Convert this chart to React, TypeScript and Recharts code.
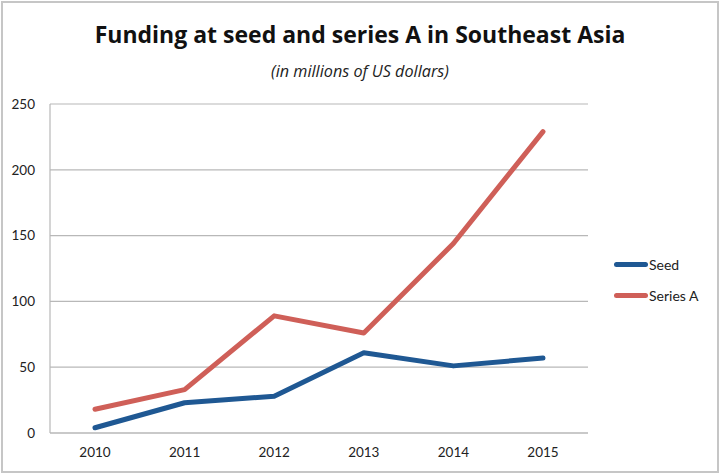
import React from "react";
import { LineChart, Line, XAxis, YAxis, CartesianGrid, Legend } from "recharts";

const years = ["2010", "2011", "2012", "2013", "2014", "2015"];
const seed = [4, 23, 28, 61, 51, 57];
const seriesA = [18, 33, 89, 76, 144, 229];
const yTicks = [0, 50, 100, 150, 200, 250];

const data = years.map((y, i) => ({ year: y, seed: seed[i], seriesA: seriesA[i] }));

const FONT = "Lato, 'Open Sans', sans-serif";
const TITLE_FONT = "'Open Sans', Lato, sans-serif";
const BLUE = "#1f5893";
const RED = "#cf5f58";
const GRID = "#b8b8b8";

const LegendContent = (props: any) => {
  const payload = props.payload || [];
  return (
    <div style={{ fontFamily: FONT, fontSize: 14, color: "#222" }}>
      {payload.map((p: any, i: number) => (
        <div key={i} style={{ display: "flex", alignItems: "center", height: 31 }}>
          <div style={{ width: 34, height: 5, borderRadius: 3, background: p.color, marginRight: 1 }} />
          <span>{p.value}</span>
        </div>
      ))}
    </div>
  );
};

export default function App() {
  return (
    <div style={{ position: "relative", width: 720, height: 474, background: "#fff" }}>
      <style>{`body{margin:0}`}</style>
      <div
        style={{
          position: "absolute",
          left: 1,
          top: 1,
          width: 718,
          height: 472,
          boxSizing: "border-box",
          border: "2px solid #c6c6c6",
        }}
      />
      <div
        style={{
          position: "absolute",
          left: 0,
          top: 19,
          width: 720,
          textAlign: "center",
          fontFamily: TITLE_FONT,
          fontWeight: 700,
          fontSize: 23,
          color: "#111",
          lineHeight: "30px",
        }}
      >
        Funding at seed and series A in Southeast Asia
      </div>
      <div
        style={{
          position: "absolute",
          left: 0,
          top: 61,
          width: 720,
          textAlign: "center",
          fontFamily: TITLE_FONT,
          fontStyle: "italic",
          fontSize: 16.2,
          color: "#222",
          lineHeight: "20px",
        }}
      >
        (in millions of US dollars)
      </div>
      <div style={{ position: "absolute", left: 0, top: 0 }}>
        <LineChart
          width={720}
          height={474}
          data={data}
          margin={{ top: 104, right: 132, bottom: 0, left: 0 }}
        >
          <CartesianGrid vertical={false} stroke={GRID} strokeWidth={1.2} />
          <XAxis
            dataKey="year"
            height={41}
            padding={{ left: 45, right: 45 }}
            axisLine={{ stroke: GRID, strokeWidth: 1.2 }}
            tickLine={false}
            tickSize={0}
            tickMargin={14}
            tick={{ fontFamily: FONT, fontSize: 13.5, fill: "#222" }}
          />
          <YAxis
            width={50}
            domain={[0, 250]}
            ticks={yTicks}
            axisLine={{ stroke: GRID, strokeWidth: 1.2 }}
            tickLine={false}
            tickSize={0}
            tickMargin={15}
            tick={{ fontFamily: FONT, fontSize: 13.5, fill: "#222" }}
          />
          <Line
            dataKey="seed"
            name="Seed"
            stroke={BLUE}
            strokeWidth={5}
            dot={false}
            activeDot={false}
            strokeLinejoin="round"
            strokeLinecap="round"
            isAnimationActive={false}
          />
          <Line
            dataKey="seriesA"
            name="Series A"
            stroke={RED}
            strokeWidth={5}
            dot={false}
            activeDot={false}
            strokeLinejoin="round"
            strokeLinecap="round"
            isAnimationActive={false}
          />
          <Legend
            layout="vertical"
            align="center"
            verticalAlign="middle"
            content={LegendContent}
            wrapperStyle={{ left: 614, top: 249, width: 100, right: "auto", bottom: "auto" }}
          />
        </LineChart>
      </div>
    </div>
  );
}
